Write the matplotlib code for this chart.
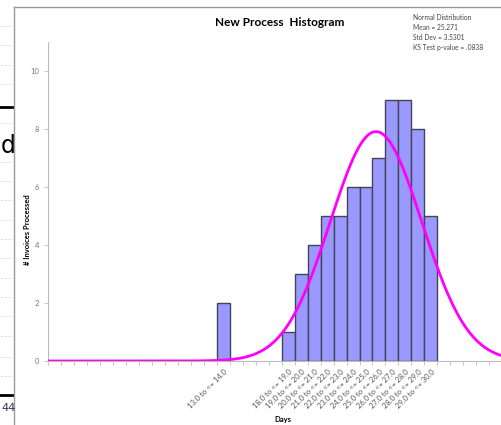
import numpy as np
import matplotlib
matplotlib.use("Agg")
import matplotlib.pyplot as plt
from matplotlib.lines import Line2D

plt.rcParams['font.family'] = ['Lato', 'DejaVu Sans']

# histogram bins (lower edge, upper edge) and counts
bin_lo = [13.0, 18.0, 19.0, 20.0, 21.0, 22.0, 23.0, 24.0, 25.0, 26.0, 27.0, 28.0, 29.0]
bin_hi = [14.0, 19.0, 20.0, 21.0, 22.0, 23.0, 24.0, 25.0, 26.0, 27.0, 28.0, 29.0, 30.0]
counts = [2, 1, 3, 4, 5, 5, 6, 6, 7, 9, 9, 8, 5]

# fitted normal distribution (from the stats box)
mean = 25.271
std = 3.5301
ks_p = ".0838"

fig = plt.figure(figsize=(5.01, 4.25), dpi=100)

# bits of the surrounding page on the left edge of the screenshot
for y in [26, 45, 65, 84, 123, 142, 162, 181, 200, 220, 239, 258, 278, 297, 316, 336, 357, 376]:
    fig.add_artist(Line2D([0, 12 / 501], [1 - y / 425] * 2, color='#d8d8d8', lw=0.6, ls=(0, (3, 2))))
for y in [107, 395]:
    fig.add_artist(Line2D([0, 13 / 501], [1 - y / 425] * 2, color='black', lw=2))
fig.add_artist(Line2D([13.5 / 501, 13.5 / 501], [0, 1 - 7 / 425], color='#999999', lw=1))
fig.add_artist(Line2D([13.5 / 501, 1], [1 - 7 / 425] * 2, color='#999999', lw=1))
fig.text(0.002, 1 - 146 / 425, 'd', fontsize=17, family='DejaVu Sans', va='center')
fig.text(0.002, 1 - 408 / 425, '44', fontsize=8, family='DejaVu Sans', va='center', color='#333355')

ax = fig.add_axes([48.2 / 501, 1 - 361 / 425, 454 / 501, 319 / 425])

widths = [h - l for l, h in zip(bin_lo, bin_hi)]
ax.bar(bin_lo, counts, width=widths, align='edge', color='#9999ff',
       edgecolor='#444455', linewidth=1, zorder=2)

n = sum(counts)
xs = np.linspace(0, 35, 500)
ys = n * 1.0 / (std * np.sqrt(2 * np.pi)) * np.exp(-0.5 * ((xs - mean) / std) ** 2)
ax.plot(xs, ys, color='#ff00ff', lw=2, zorder=3)

ax.set_xlim(0, 35)
ax.set_ylim(0, 11)

for s in ['top', 'right']:
    ax.spines[s].set_visible(False)
ax.spines['left'].set_color('#bbbbbb')
ax.spines['bottom'].set_color('#bbbbbb')

ax.set_yticks(range(0, 11, 2))
ax.tick_params(axis='y', labelsize=5.5, colors='#bbbbbb', length=3, width=0.6)
ax.tick_params(axis='y', labelcolor='#777777')

centers = [(l + h) / 2 for l, h in zip(bin_lo, bin_hi)]
labels = [f"{l:.1f} to <= {h:.1f}" for l, h in zip(bin_lo, bin_hi)]
ax.set_xticks(range(0, 36), minor=True)
ax.set_xticks(centers)
ax.set_xticklabels(labels, rotation=45, ha='right', rotation_mode='anchor',
                   fontsize=5.5, color='#555555')
ax.tick_params(axis='x', which='major', length=0, pad=5)
ax.tick_params(axis='x', which='minor', length=3, width=0.6, colors='#bbbbbb')

ax.set_xlabel('Days', fontsize=5.5, fontweight='bold', labelpad=2)
ax.xaxis.set_label_coords((283 - 48.2) / 454, -(416 - 361) / 319)
ax.set_ylabel('# Invoices Processed', fontsize=5.5, fontweight='bold')
ax.yaxis.set_label_coords(-(48.2 - 31) / 454, (361 - 230) / 319)

fig.text(280 / 501, 1 - 22 / 425, 'New Process  Histogram', fontsize=8.5,
         fontweight='bold', ha='center', va='center')
fig.text(413 / 501, 1 - 14 / 425,
         f"Normal Distribution\nMean = {mean}\nStd Dev = {std}\nKS Test p-value = {ks_p}",
         fontsize=4.8, color='#444444', va='top', ha='left', linespacing=1.5)

fig.savefig('out.png', dpi=100)
